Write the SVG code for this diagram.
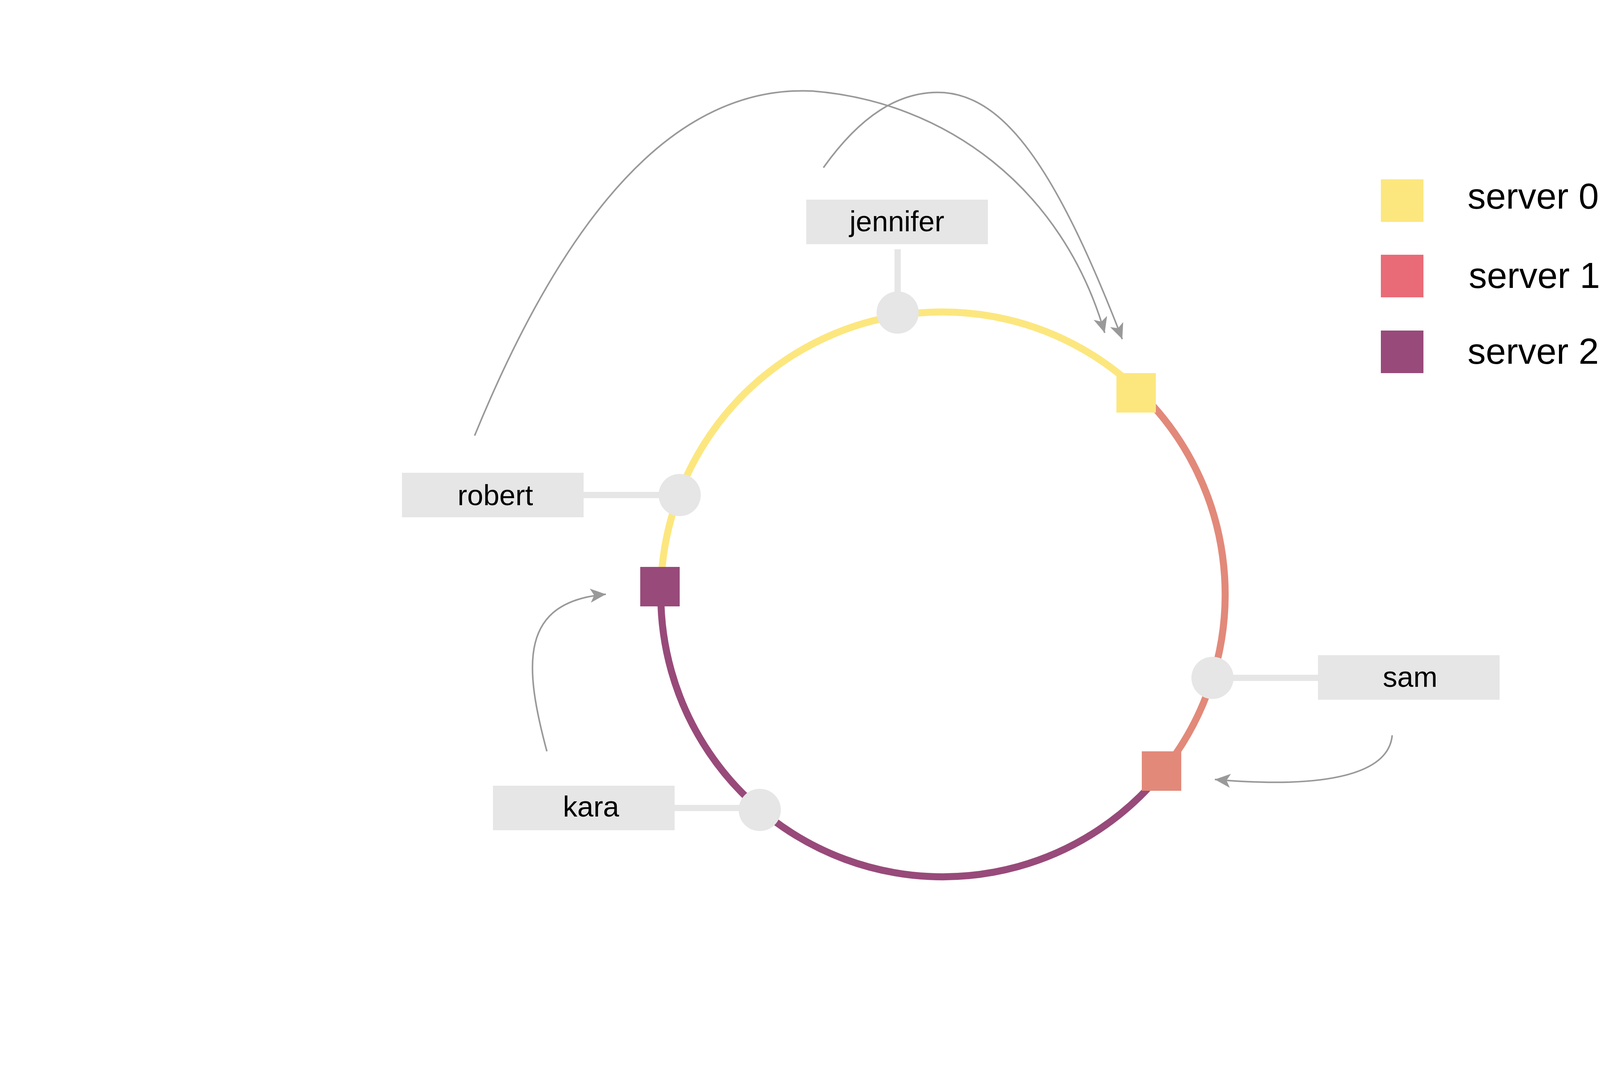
<svg xmlns="http://www.w3.org/2000/svg" width="5334" height="2754" viewBox="0 0 5334 2754">
<style>
.lbl{fill:#e5e6e5}
.key{fill:#e5e6e5}
.stem{stroke:#e5e6e5;stroke-width:16;fill:none}
.txt{font-family:"Liberation Sans",Arial,sans-serif;font-size:74px;fill:#000;text-anchor:middle}
.leg{font-family:"Liberation Sans",Arial,sans-serif;font-size:93px;fill:#000}
.ring{fill:none;stroke-width:18}
.conn{fill:none;stroke:#999;stroke-width:4}
</style>
<defs>
<marker id="ah" markerUnits="userSpaceOnUse" markerWidth="44" markerHeight="36" refX="40" refY="18" orient="auto">
<path d="M0,0 L40,18 L0,36 L10,18 Z" fill="#999"/>
</marker>
</defs>
<rect width="5334" height="2754" fill="#fff"/>
<g id="ring">
<path class="ring" stroke="#fce77f" d="M1692,1501 A722,722 0 0 1 2914,1000"/>
<path class="ring" stroke="#e2897a" d="M2914,1000 A722,722 0 0 1 2976,1975"/>
<path class="ring" stroke="#984a7a" d="M2976,1975 A722,722 0 0 1 1692,1501"/>
</g>
<g id="server0-node"><rect x="2858" y="955" width="101" height="101" fill="#fce77f"/></g>
<g id="server1-node"><rect x="2923" y="1923" width="101" height="101" fill="#e2897a"/></g>
<g id="server2-node"><rect x="1639" y="1451" width="101" height="101" fill="#984a7a"/></g>
<g id="jennifer">
<line class="stem" x1="2298" y1="638" x2="2298" y2="760"/>
<rect class="lbl" x="2064" y="511" width="465" height="114"/>
<text class="txt" x="2296" y="592">jennifer</text>
<circle class="key" cx="2298" cy="800" r="54"/>
</g>
<g id="robert">
<line class="stem" x1="1494" y1="1267" x2="1700" y2="1267"/>
<rect class="lbl" x="1029" y="1210" width="465" height="114"/>
<text class="txt" x="1268" y="1293">robert</text>
<circle class="key" cx="1740" cy="1267" r="54"/>
</g>
<g id="sam">
<line class="stem" x1="3150" y1="1735" x2="3374" y2="1735"/>
<rect class="lbl" x="3374" y="1677" width="465" height="114"/>
<text class="txt" x="3610" y="1758">sam</text>
<circle class="key" cx="3104" cy="1735" r="54"/>
</g>
<g id="kara">
<line class="stem" x1="1727" y1="2068" x2="1900" y2="2068"/>
<rect class="lbl" x="1262" y="2011" width="465" height="114"/>
<text class="txt" x="1513" y="2090">kara</text>
<circle class="key" cx="1945" cy="2073" r="54"/>
</g>
<g id="legend">
<rect x="3535" y="459" width="109" height="109" fill="#fce77f"/>
<rect x="3535" y="652" width="109" height="109" fill="#e96b77"/>
<rect x="3535" y="846" width="109" height="109" fill="#984a7a"/>
<text class="leg" x="3757" y="534">server 0</text>
<text class="leg" x="3760" y="737">server 1</text>
<text class="leg" x="3757" y="931">server 2</text>
</g>
<g id="connectors">
<path class="conn" marker-end="url(#ah)" d="M1215,1115 C1500,420 1800,220 2080,233 C2420,260 2720,480 2828,852"/>
<path class="conn" marker-end="url(#ah)" d="M2108,429 C2200,300 2300,230 2417,237 C2570,250 2700,420 2873,868"/>
<path class="conn" marker-end="url(#ah)" d="M1400,1923 C1340,1700 1330,1540 1551,1521"/>
<path class="conn" marker-end="url(#ah)" d="M3564,1882 C3555,1980 3400,2020 3110,1995"/>
</g>
</svg>
